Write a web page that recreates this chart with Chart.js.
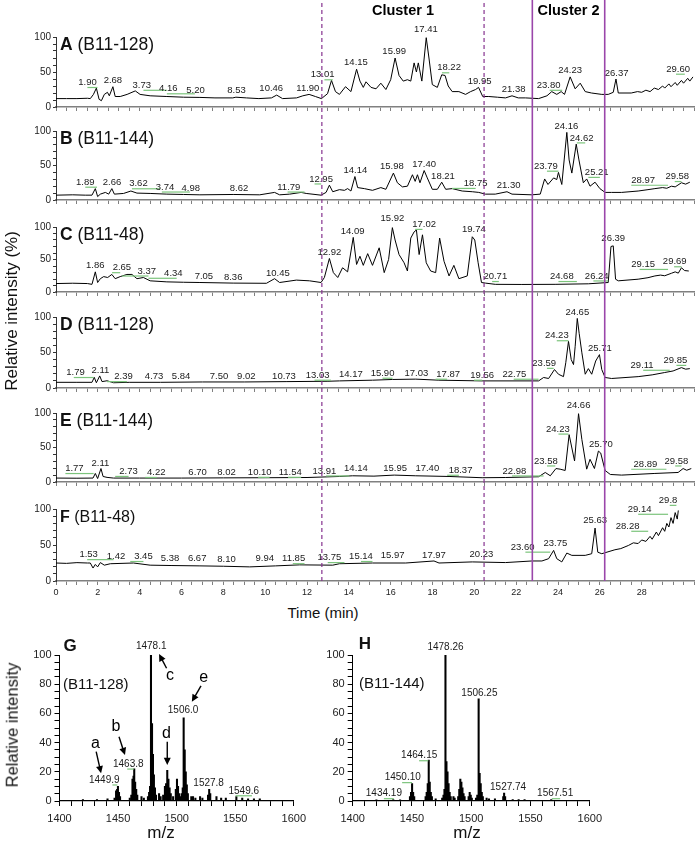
<!DOCTYPE html>
<html>
<head>
<meta charset="utf-8">
<title>Chromatograms and mass spectra</title>
<script src="https://cdn.jsdelivr.net/npm/chart.js@4.4.1/dist/chart.umd.min.js"></script>
<style>
  html, body { margin: 0; padding: 0; background: #fff; }
  body { position: relative; width: 696px; height: 842px; overflow: hidden;
         font-family: "Liberation Sans", Arial, sans-serif; color: #111; }
  canvas { position: absolute; }
  .txt { position: absolute; white-space: nowrap; line-height: 1; }
</style>
</head>
<body>
<script>
// ---- chromatogram traces: [retention time (min), relative intensity (%)] ----
const traceA = [[0,12],[0.5,12],[1,12],[1.5,12.5],[1.64,12],[1.79,18],[1.93,27],[2.06,11],[2.17,9],[2.31,18],[2.46,21],[2.55,16],[2.72,29],[2.83,15],[3.07,15],[3.4,18],[3.79,23],[4.02,18],[4.5,16],[5.3,15],[6.1,14],[6.88,13.7],[7.6,13],[8.45,13],[8.6,14],[9.1,13],[9.7,12],[10.3,13],[10.55,17],[10.83,12],[11.5,13],[11.8,16],[12.1,18],[12.4,15],[12.69,12],[12.98,19],[13.17,38],[13.36,22],[13.55,18],[13.84,29],[14.1,22],[14.37,54],[14.53,37],[14.69,28],[14.82,36],[15.06,28],[15.3,26],[15.53,34],[15.77,25],[16.0,39],[16.21,70],[16.4,45],[16.6,37],[16.8,39],[16.96,37],[17.12,63],[17.23,50],[17.32,63],[17.49,37],[17.7,99],[17.83,70],[17.99,32],[18.23,28],[18.44,46],[18.6,45],[18.75,30],[18.94,22],[19.26,22],[19.58,18],[19.82,22],[20.06,25],[20.2,28],[20.4,15],[20.69,15],[21.1,14],[21.49,13],[21.8,16],[22.1,13],[22.44,13],[23.07,12],[23.47,16],[23.7,22],[23.94,18],[24.15,22],[24.31,18],[24.58,43],[24.82,26],[25.06,34],[25.3,22],[25.6,20],[26.09,18],[26.4,18],[26.64,21],[26.77,40],[26.88,20],[27.5,20],[27.8,22],[28.0,21],[28.2,24],[28.4,22],[28.6,27],[28.8,25],[29.0,30],[29.1,27],[29.3,33],[29.4,29],[29.6,35],[29.7,31],[29.9,38],[30.0,34],[30.2,41],[30.3,37],[30.45,43]];
const traceB = [[0,7],[0.8,7.5],[1.4,7],[1.72,7],[1.88,16.5],[1.99,5],[2.12,8.5],[2.36,11],[2.52,8.5],[2.67,16.5],[2.79,8.5],[3.23,9.5],[3.58,13],[3.87,10],[4.5,9.5],[5.3,8.5],[6.1,8],[6.88,7.5],[8.47,8],[9.74,7.5],[10.45,11],[10.69,7.5],[11.17,8.5],[11.72,11],[11.96,9.5],[12.67,7],[12.91,11],[13.07,21.5],[13.23,12],[13.55,15],[13.79,14],[13.94,16.5],[14.1,13],[14.29,34],[14.42,18],[14.74,16.5],[15.13,14],[15.53,18],[15.77,15.5],[16.13,39],[16.32,25],[16.56,19],[16.8,20],[17.04,36.6],[17.17,27],[17.28,36.6],[17.4,25],[17.6,42.7],[17.75,32],[17.99,15.5],[18.23,15.5],[18.44,25.8],[18.63,15.5],[18.94,16.5],[19.42,13],[19.9,12],[20.21,11],[20.53,8.5],[21.0,8.5],[21.56,12],[21.8,8.5],[22.75,7.5],[23.15,8.5],[23.36,30.5],[23.52,22.5],[23.79,32],[23.94,29.6],[24.02,40],[24.18,22.5],[24.42,98],[24.53,58],[24.66,39],[24.87,81],[25.0,58],[25.21,25],[25.37,30.5],[25.53,20],[25.77,25.8],[26.0,16.5],[26.25,11],[26.56,11],[27.04,11],[27.83,13],[28.3,15],[28.63,16.5],[29.0,18],[29.2,17],[29.42,20],[29.6,19],[29.9,25],[30.1,23],[30.3,25.8]];
const traceC = [[0,13],[0.8,13.5],[1.5,13],[1.72,11.8],[1.88,31],[1.99,14.6],[2.12,20.5],[2.28,23.7],[2.47,22.3],[2.67,27],[2.83,20.5],[3.07,23.7],[3.39,27],[3.63,27],[3.87,20.5],[4.18,22.3],[4.5,17.2],[5.3,15.6],[6.1,15],[6.88,14.6],[8.47,13.7],[10.06,13.4],[10.45,20.5],[10.69,14.6],[11.49,18.3],[12.12,17.2],[12.67,14.6],[12.83,22.3],[13.07,51.6],[13.26,29.8],[13.47,22.3],[13.7,37.3],[13.94,31],[14.21,84],[14.37,42.4],[14.53,55],[14.69,41],[14.9,59],[15.13,41],[15.45,68],[15.69,29.8],[15.9,50],[16.08,99],[16.21,80],[16.4,57.6],[16.64,45],[16.8,32.3],[16.96,83],[17.12,92.5],[17.23,95.4],[17.36,57.6],[17.52,88],[17.7,45],[17.91,32.3],[18.15,29.8],[18.34,83],[18.55,47.3],[18.79,24.7],[19.02,41],[19.26,20.5],[19.66,24.7],[19.9,85],[20.02,80],[20.18,45],[20.34,14.6],[20.53,13.7],[21.0,11.8],[22.27,11.6],[23.86,11.8],[25.45,12.6],[26.4,14.6],[26.53,70],[26.64,71],[26.75,19.7],[26.88,17.2],[27.83,19.7],[28.3,22],[28.63,24.7],[28.9,26],[29.1,25],[29.42,28.8],[29.6,31],[29.75,29],[29.9,37.3],[30.05,33],[30.25,32.3]];
const traceD = [[0,8],[1.0,8],[1.72,8],[1.83,15],[1.93,7.4],[2.09,17],[2.2,9],[2.44,10.2],[2.75,7.4],[3.5,8],[5.0,8],[7.0,8.5],[9.0,8.5],[11.0,9],[13.0,9.5],[13.55,10],[15.13,11],[16.08,12],[17.2,12.5],[18.3,11],[20.37,10],[23.07,10],[23.31,14.8],[23.55,13.4],[23.83,26],[24.02,19.4],[24.26,16],[24.37,35.6],[24.5,65.7],[24.63,40],[24.74,33],[24.82,58.8],[24.92,98],[25.01,77],[25.14,49.5],[25.3,19.4],[25.45,27.3],[25.61,19.4],[25.8,38],[25.98,47],[26.09,26],[26.25,14.8],[26.56,13.4],[27.83,16],[28.5,18.5],[29.1,21.8],[29.5,24],[29.9,28.7],[30.1,26.5],[30.3,27.3]];
const traceE = [[0,5.7],[1.0,5.5],[1.77,5.7],[1.88,12.4],[1.99,5],[2.15,19.5],[2.25,8],[2.44,6.7],[2.75,5.7],[4.0,5.7],[6.0,5.7],[8.0,6],[10.0,6.2],[12.0,6.5],[13.55,8],[14.18,9],[15.2,8.5],[16.17,10],[17.2,9],[18.79,8],[20.37,6.2],[21.5,6.5],[23.07,7.6],[23.39,13.8],[23.63,9],[23.9,19.5],[24.1,18.6],[24.34,16.7],[24.53,68.6],[24.79,30.5],[24.98,99],[25.14,61.4],[25.37,18.6],[25.53,32.9],[25.74,19.5],[25.93,44.8],[26.04,42],[26.25,16.7],[26.5,10.9],[27.04,10],[28.63,12.4],[29.74,13.8],[29.98,19.5],[30.15,17],[30.37,19.5]];
const traceF = [[0,25],[0.5,24.5],[1.0,25.5],[1.5,25],[1.64,25],[1.77,18],[1.88,23],[1.99,19.6],[2.12,25.6],[2.31,22],[2.6,24],[3.7,25],[4.5,22],[5.5,21.5],[6.88,21],[8.0,20.5],[9.26,19.6],[10.5,21],[11.64,22.4],[13.23,22],[13.55,24],[15.13,25],[16.72,25],[18.07,27.8],[18.31,25],[19.9,26.5],[21.49,25.6],[22.75,27.8],[23.23,27.8],[23.55,31],[23.79,42.5],[23.94,31],[24.18,26.5],[24.42,38.8],[24.66,35.6],[25.3,35.6],[25.61,37.9],[25.77,73.5],[25.9,40],[26.09,37.9],[26.72,43.4],[27.0,45],[27.36,49.3],[27.6,53],[27.83,52],[28.0,57],[28.2,55],[28.4,62],[28.5,58],[28.7,68],[28.8,63],[29.0,74],[29.1,69],[29.2,80],[29.3,75],[29.4,88],[29.5,80],[29.6,95],[29.7,86],[29.75,98]];

// ---- peak labels: [text, time, height, green from, green to] ----
const labelsA = [["1.90",1.51,35,1.5,1.98],["2.68",2.72,38],["3.73",4.1,31,4.18,5.3],["4.16",5.37,26,5.3,6.64],["5.20",6.67,24],["8.53",8.63,24],["10.46",10.29,26],["11.90",12.04,27],["13.01",12.75,46,12.83,13.23],["14.15",14.34,64],["15.99",16.17,79],["17.41",17.68,111],["18.22",18.79,56,18.45,18.8],["19.95",20.25,37],["21.38",21.88,25],["23.80",23.55,31,23.6,24.2],["24.23",24.58,52],["26.37",26.8,48],["29.60",29.74,54,29.64,30.06]];
const labelsB = [["1.89",1.4,25.8,1.4,1.96],["2.66",2.68,25.8],["3.62",3.94,23.5,3.63,4.98],["3.74",5.21,18.8,5.06,6.4],["4.98",6.44,16.5],["8.62",8.75,16.5],["11.79",11.13,18.8,11.07,11.88],["12.95",12.67,30.5,12.36,12.68],["14.14",14.31,42.7],["15.98",16.06,48.3],["17.40",17.6,52],["18.21",18.5,34],["18.75",20.06,24,18.93,20.06],["21.30",21.64,21],["23.79",23.42,49,23.47,24.02],["24.16",24.4,107],["24.62",25.13,90,24.9,25.3],["25.21",25.85,40,25.45,26.0],["28.97",28.07,28.6,27.5,29.26],["29.58",29.7,34,29.58,29.9]];
const labelsC = [["1.86",1.88,41],["2.65",3.15,37.4,2.68,3.07],["3.37",4.34,32.3,3.15,4.42],["4.34",5.61,28.8,4.42,5.77],["7.05",7.07,24.7],["8.36",8.47,23.2],["10.45",10.61,28.8],["12.92",13.07,61.7],["14.09",14.18,94],["15.92",16.08,113],["17.02",17.6,104,17.17,17.52],["19.74",19.98,96.5],["20.71",21.0,23.8,20.85,21.17],["24.68",24.18,23.8,24.02,24.9],["26.24",25.85,24.7,25.69,26.4],["26.39",26.64,81.8],["29.15",28.07,42.4,27.9,29.26],["29.69",29.58,46.5,29.55,29.9]];
const labelsD = [["1.79",0.93,21.8,0.85,1.8],["2.11",2.12,25.4],["2.39",3.23,16,2.44,3.39],["4.73",4.69,16],["5.84",5.98,16],["7.50",7.79,16],["9.02",9.1,16],["10.73",10.9,16],["13.03",12.51,18,12.36,13.15],["14.17",14.1,19.4],["15.90",15.61,20.8,15.61,16.09],["17.03",17.23,20.8],["17.87",18.75,19.4,18.15,18.7],["19.56",20.37,18,19.98,20.37],["22.75",21.91,19.4,21.88,23.07],["23.59",23.34,34.7,23.47,23.79],["24.23",23.94,73.6,23.94,24.5],["24.65",24.92,107],["25.71",26.0,56.5],["29.11",28.02,32,28.07,29.34],["29.85",29.61,38.9,29.66,30.13]];
const labelsE = [["1.77",0.88,19.5,0.45,1.8],["2.11",2.12,27],["2.73",3.47,15.3,2.83,3.47],["4.22",4.79,13.8,4.26,4.82],["6.70",6.77,14],["8.02",8.15,14],["10.10",9.74,14,9.66,10.21],["11.54",11.2,14,11.09,11.72],["13.91",12.83,16,12.91,14.02],["14.14",14.34,19.5],["15.95",16.21,19.5],["17.40",17.75,19.5],["18.37",19.34,17,18.7,19.26],["22.98",21.91,16,21.8,23.31],["23.58",23.42,30.5,23.47,23.87],["24.23",23.99,76.7,24.02,24.5],["24.66",24.98,111],["25.70",26.05,54],["28.89",28.18,25.7,27.5,29.18],["29.58",29.66,30.5,29.6,29.9]];
const labelsF = [["1.53",1.56,36.6,1.49,2.75],["1.42",2.87,34],["3.45",4.18,34,3.55,4.18],["5.38",5.45,31],["6.67",6.75,31],["8.10",8.15,29.7],["9.94",9.98,31],["11.85",11.36,31,11.32,11.88],["13.75",13.07,32.5,12.99,13.79],["15.14",14.58,34,14.58,15.13],["15.97",16.09,35.6],["17.97",18.07,35.6],["20.23",20.34,36.6],["23.60",22.31,47,22.44,23.63],["23.75",23.87,51.6],["25.63",25.77,84.7],["28.28",27.33,76,27.5,28.31],["29.14",27.9,99.6,27.83,29.26],["29.8",29.26,112,29.34,29.66]];

const sampleLetters = ["A", "B", "C", "D", "E", "F"];
const sampleNames = ["(B11-128)", "(B11-144)", "(B11-48)", "(B11-128)", "(B11-144)", "(B11-48)"];
const clusterNames = ["Cluster 1", "Cluster 2"];
const clusterEdges = [[12.67, 20.4], [22.7, 26.15]];

// ---- mass spectra: [m/z, relative intensity] ----
const spectrumG = [[1420,1],[1432,1],[1441,1.5],[1447,2],[1448.3,7],[1449.2,8],[1449.9,10],[1450.8,6],[1451.7,3],[1460,2],[1461.3,4],[1462.3,15],[1463.2,17],[1463.8,22],[1464.6,13],[1465.5,8],[1466.4,4],[1470,3],[1472,2],[1475.5,3],[1476.5,6],[1477.3,10],[1478.1,100],[1479,53],[1479.8,32],[1480.6,18],[1481.5,9],[1482.4,4],[1485,5],[1486.3,3],[1488.5,4],[1490,10],[1491,12],[1492,21],[1493,15],[1494,9],[1495,5],[1497,3],[1499.3,8],[1500.3,15],[1501.2,10],[1502.1,5],[1503.2,3],[1504.3,5],[1505.2,9],[1506.0,57],[1506.9,35],[1507.8,20],[1508.7,11],[1509.6,5],[1512.5,3],[1514,3],[1516,2],[1520,3],[1522,2],[1526.8,4],[1527.8,8],[1528.7,5],[1534,3],[1538,2],[1542,2],[1551,3],[1556,2],[1561,1.5],[1566,1.5],[1571,1.5]];
const spectrumH = [[1420,0.8],[1434.2,1],[1440,0.8],[1448.3,3],[1449.2,6],[1450.1,12],[1451,6],[1451.9,3],[1461.5,3],[1462.4,6],[1463.3,12],[1464.15,28],[1465,13],[1465.9,6],[1466.8,3],[1470,1.5],[1475.5,2],[1476.6,4],[1477.4,8],[1478.26,100],[1479.1,27],[1480,20],[1480.9,12],[1481.8,6],[1482.7,3],[1485,3],[1486,2],[1489,3],[1489.9,8],[1490.8,15],[1491.7,13],[1492.6,9],[1493.5,5],[1494.4,3],[1497.8,3],[1498.7,6],[1499.6,4],[1500.5,2],[1504,2],[1505.1,4],[1506.25,70],[1507.1,19],[1508,12],[1508.9,6],[1509.8,3],[1513,2],[1515,1.5],[1520,1.5],[1527,3],[1527.74,5.5],[1528.6,3],[1535,1],[1540,1],[1545,1],[1567.5,1]];
const spectrumLabelsG = [["1478.1",1478.3,105.7],["1506.0",1505.5,62.3],["1463.8",1458.7,25.3,1457.8,1463.4],["1449.9",1438.2,14.4,1445.2,1449.4],["1527.8",1527.3,12.1],["1549.6",1557.3,7,1550.3,1564.3]];
const spectrumLabelsH = [["1478.26",1478.3,105],["1506.25",1506.9,73.6],["1464.15",1456.1,31,1456,1463.8],["1450.10",1442.2,16,1441.7,1450],["1434.19",1426.3,5,1426.3,1434.7],["1527.74",1531.1,9.2],["1567.51",1570.8,5,1568,1575]];
// arrows in G: [letter, text m/z, text y, from m/z, from y, to m/z, to y]
const arrowsG = [["a",1430.7,39,1431.3,33.8,1435.5,19],["b",1448.1,50.9,1450.8,44,1455.9,31.5],["c",1494.3,85.6,1491.4,90.9,1485,100.7],["d",1491.4,45.9,1492,40.6,1492,24.7],["e",1523.1,84.7,1520.8,78.8,1513,68]];

// ---- layout ----
const FONT = '"Liberation Sans", Arial, sans-serif';
const PANEL_Y = [[37,108],[131,201],[227,293],[317,389],[413,483],[509,581]];
const traces = [traceA, traceB, traceC, traceD, traceE, traceF];
const peakLabels = [labelsA, labelsB, labelsC, labelsD, labelsE, labelsF];

function addText(html, x, y, css, tf) {
    const d = document.createElement('div');
    d.className = 'txt';
    d.innerHTML = html;
    d.style.cssText += `left:${x}px;top:${y}px;${css || ''};transform:${tf || 'translate(-50%,-50%)'}`;
    document.body.appendChild(d);
}

function addCanvas(left, top, w, h) {
    const c = document.createElement('canvas');
    c.width = w; c.height = h;
    c.style.left = left + 'px'; c.style.top = top + 'px';
    c.style.width = w + 'px'; c.style.height = h + 'px';
    document.body.appendChild(c);
    return c;
}

// text labels with optional green underline, placed through the chart scales
function labelPlugin(list, fontSize) {
    return {
        id: 'peakLabels',
        afterDatasetsDraw(chart) {
            const ctx = chart.ctx, xs = chart.scales.x, ys = chart.scales.y;
            ctx.save();
            ctx.font = fontSize + 'px ' + FONT;
            ctx.textAlign = 'center';
            ctx.textBaseline = 'middle';
            list.forEach(l => {
                const x = xs.getPixelForValue(l[1]), y = ys.getPixelForValue(l[2]);
                if (l.length > 3) {
                    ctx.strokeStyle = '#7cc47c';
                    ctx.lineWidth = 1.2;
                    ctx.beginPath();
                    ctx.moveTo(xs.getPixelForValue(l[3]), y + 5);
                    ctx.lineTo(xs.getPixelForValue(l[4]), y + 5);
                    ctx.stroke();
                }
                ctx.fillStyle = '#1a1a1a';
                ctx.fillText(l[0], x, y);
            });
            ctx.restore();
        }
    };
}

// ---- six chromatogram panels ----
traces.forEach((trace, i) => {
    const last = i === traces.length - 1;
    const [y100, y0] = PANEL_Y[i];
    const bottomH = last ? 20 : 7;
    const c = addCanvas(0, y100 - 16, 696, (y0 - y100) + 16 + bottomH);
    new Chart(c, {
        type: 'line',
        data: {
            datasets: [{
                data: trace.map(p => ({x: p[0], y: p[1]})),
                borderColor: '#000',
                borderWidth: 1,
                pointRadius: 0,
                tension: 0
            }]
        },
        options: {
            responsive: false,
            animation: false,
            layout: {padding: {top: 16, left: 0, right: 0, bottom: 0}},
            plugins: {legend: {display: false}, tooltip: {enabled: false}},
            scales: {
                x: {
                    type: 'linear', min: 0, max: 30.5,
                    afterFit: s => { s.height = bottomH; },
                    border: {color: '#808080', width: 1.6},
                    grid: {drawOnChartArea: false, tickLength: 4, color: '#808080'},
                    ticks: {
                        stepSize: 0.5, autoSkip: false, maxRotation: 0, padding: 2,
                        font: {size: 9, family: FONT}, color: '#222',
                        callback: v => (last && Math.abs(v % 2) < 1e-6 && v <= 28) ? String(v) : ''
                    }
                },
                y: {
                    min: 0, max: 100,
                    afterFit: s => { s.width = 56; },
                    border: {color: '#333', width: 1},
                    grid: {drawOnChartArea: false, tickLength: 3, color: '#333'},
                    ticks: {
                        stepSize: 10, autoSkip: false, padding: 2,
                        font: {size: 10, family: FONT}, color: '#222',
                        callback: v => v % 50 === 0 ? String(v) : ''
                    }
                }
            }
        },
        plugins: [labelPlugin(peakLabels[i], 9.5)]
    });
    addText(`<b>${sampleLetters[i]}</b> ${sampleNames[i]}`, 60, y100 + 7.5,
        `font-size:${last ? 16 : 17.5}px`, 'translateY(-50%)');
});

addText('Relative intensity (%)', 11, 311, 'font-size:17px', 'translate(-50%,-50%) rotate(-90deg)');
addText('Time (min)', 323, 612, 'font-size:15px');

// ---- mass spectra ----
function makeSpectrum(spec, labels, arrows, left, w, yWidth, padRight) {
    const c = addCanvas(left, 640, w, 202);
    new Chart(c, {
        type: 'bar',
        data: {
            datasets: [{
                data: spec.map(p => ({x: p[0], y: p[1]})),
                backgroundColor: '#000',
                barThickness: 1.4
            }]
        },
        options: {
            responsive: false,
            animation: false,
            layout: {padding: {top: 15, right: padRight, left: 0, bottom: 0}},
            plugins: {legend: {display: false}, tooltip: {enabled: false}},
            scales: {
                x: {
                    type: 'linear', min: 1400, max: 1600, offset: false,
                    afterFit: s => { s.height = 41; },
                    border: {color: '#000', width: 1.2},
                    grid: {drawOnChartArea: false, tickLength: 5, color: '#000', offset: false},
                    ticks: {
                        stepSize: 10, autoSkip: false, maxRotation: 0, padding: 6,
                        font: {size: 11, family: FONT}, color: '#222',
                        callback: v => v % 50 === 0 ? String(v) : ''
                    }
                },
                y: {
                    min: 0, max: 100,
                    afterFit: s => { s.width = yWidth; },
                    border: {color: '#000', width: 1},
                    grid: {drawOnChartArea: false, tickLength: 5, color: '#000'},
                    ticks: {
                        stepSize: 5, autoSkip: false, padding: 3,
                        font: {size: 11, family: FONT}, color: '#222',
                        callback: v => v % 20 === 0 ? String(v) : ''
                    }
                }
            }
        },
        plugins: [labelPlugin(labels, 10), {
            id: 'arrows',
            afterDatasetsDraw(chart) {
                const ctx = chart.ctx, xs = chart.scales.x, ys = chart.scales.y;
                ctx.save();
                ctx.fillStyle = '#000';
                ctx.strokeStyle = '#000';
                ctx.lineWidth = 1.4;
                ctx.font = '16px ' + FONT;
                ctx.textAlign = 'center';
                ctx.textBaseline = 'middle';
                arrows.forEach(a => {
                    ctx.fillText(a[0], xs.getPixelForValue(a[1]), ys.getPixelForValue(a[2]));
                    const x1 = xs.getPixelForValue(a[3]), y1 = ys.getPixelForValue(a[4]);
                    const x2 = xs.getPixelForValue(a[5]), y2 = ys.getPixelForValue(a[6]);
                    const ang = Math.atan2(y2 - y1, x2 - x1), h = 8;
                    ctx.beginPath();
                    ctx.moveTo(x1, y1);
                    ctx.lineTo(x2 - Math.cos(ang) * h * 0.7, y2 - Math.sin(ang) * h * 0.7);
                    ctx.stroke();
                    ctx.beginPath();
                    ctx.moveTo(x2, y2);
                    ctx.lineTo(x2 - h * Math.cos(ang - 0.45), y2 - h * Math.sin(ang - 0.45));
                    ctx.lineTo(x2 - h * Math.cos(ang + 0.45), y2 - h * Math.sin(ang + 0.45));
                    ctx.closePath();
                    ctx.fill();
                });
                ctx.restore();
            }
        }]
    });
}

makeSpectrum(spectrumG, spectrumLabelsG, arrowsG, 0, 312, 59.5, 14.3);
makeSpectrum(spectrumH, spectrumLabelsH, [], 300, 308, 52.7, 14.7);

addText('<b>G</b>', 70, 645, 'font-size:17px');
addText('(B11-128)', 63, 683, 'font-size:15px', 'translateY(-50%)');
addText('<b>H</b>', 365, 643, 'font-size:17px');
addText('(B11-144)', 359, 682, 'font-size:15px', 'translateY(-50%)');
addText('Relative intensity', 12, 725, 'font-size:16.5px', 'translate(-50%,-50%) rotate(-90deg)');
addText('m/z', 161, 832, 'font-size:17px');
addText('m/z', 467, 832, 'font-size:17px');

// ---- cluster boundaries across all chromatograms ----
const over = addCanvas(0, 0, 696, 581);
const edgeSets = [];
clusterEdges.forEach((pair, k) => {
    pair.forEach(t => {
        edgeSets.push({
            data: [{x: t, y: 0}, {x: t, y: 1}],
            showLine: true,
            pointRadius: 0,
            borderColor: k === 0 ? '#86338f' : '#9a46aa',
            borderWidth: k === 0 ? 1.2 : 1.6,
            borderDash: k === 0 ? [4, 3] : []
        });
    });
});
new Chart(over, {
    type: 'scatter',
    data: {datasets: edgeSets},
    options: {
        responsive: false,
        animation: false,
        layout: {padding: {left: 56, right: 0, top: 0, bottom: 0}},
        plugins: {legend: {display: false}, tooltip: {enabled: false}},
        scales: {
            x: {type: 'linear', min: 0, max: 30.5, display: false},
            y: {min: 0, max: 1, display: false}
        }
    },
    plugins: [{
        id: 'clusterNames',
        afterDatasetsDraw(chart) {
            const ctx = chart.ctx, xs = chart.scales.x;
            ctx.save();
            ctx.font = 'bold 14.5px ' + FONT;
            ctx.fillStyle = '#000';
            ctx.textAlign = 'center';
            ctx.textBaseline = 'middle';
            clusterNames.forEach((n, k) => {
                const mid = (clusterEdges[k][0] + clusterEdges[k][1]) / 2;
                ctx.fillText(n, xs.getPixelForValue(mid), 11);
            });
            ctx.restore();
        }
    }]
});
</script>
</body>
</html>
